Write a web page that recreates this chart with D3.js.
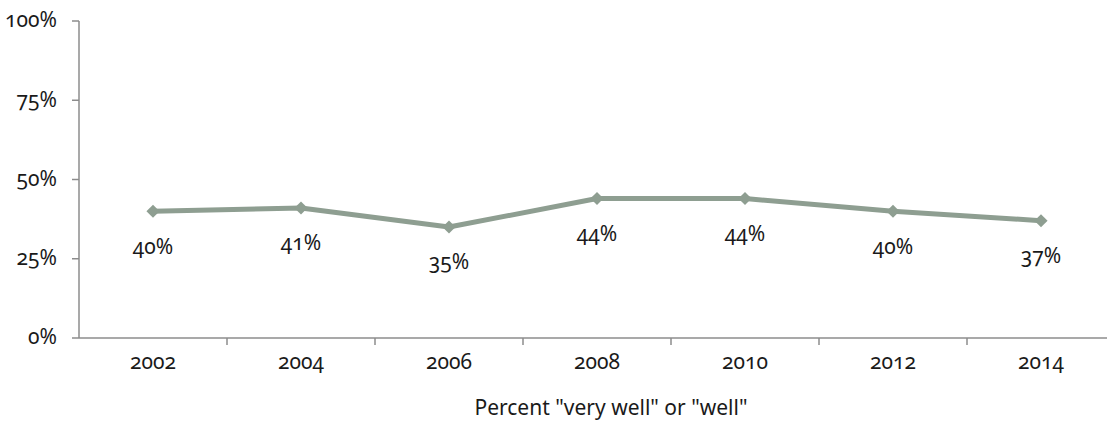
<!DOCTYPE html>
<html>
<head>
<meta charset="utf-8">
<script src="https://cdn.jsdelivr.net/npm/d3@7"></script>
<style>
  body { margin: 0; background: #fff; }
  svg text { font-family: "Noto Sans", "Open Sans", sans-serif; font-feature-settings: "onum" 1; fill: #1a1a1a; }
</style>
</head>
<body>
<svg id="chart" width="1107" height="430"></svg>
<script>
// ##### Data
var years = ['2002', '2004', '2006', '2008', '2010', '2012', '2014'];
var values = [40, 41, 35, 44, 44, 40, 37];
var yTicks = [0, 25, 50, 75, 100];
var axisTitle = 'Percent "very well" or "well"';

// ##### Layout
// NOTE 'top' is a reserved global in browsers, hence the plot prefix
var svg = d3.select('#chart');
var plotLeft = 79, plotRight = 1115, plotTop = 21, plotBottom = 338;
var fontSize = '21px';

var x = d3.scaleBand().domain(years).range([plotLeft, plotRight]);
var y = d3.scaleLinear().domain([0, 100]).range([plotBottom, plotTop]);

var axisColour = '#8c8c8c';
var lineColour = '#8e9e91';

// Y axis line and ticks
svg.append('line')
  .attr('x1', plotLeft).attr('x2', plotLeft)
  .attr('y1', y(100)).attr('y2', y(0))
  .style('stroke', axisColour).attr('stroke-width', 1.5);

svg.append('g').selectAll('line')
  .data(yTicks).enter().append('line')
  .attr('x1', plotLeft - 7).attr('x2', plotLeft)
  .attr('y1', function(d) { return y(d); })
  .attr('y2', function(d) { return y(d); })
  .style('stroke', axisColour).attr('stroke-width', 1.5);

svg.append('g').selectAll('text')
  .data(yTicks).enter().append('text')
  .attr('x', 57)
  .attr('y', function(d) { return y(d); })
  .attr('dy', '0.3em')
  .attr('text-anchor', 'end')
  .style('font-size', fontSize)
  .text(function(d) { return d + '%'; });

// X axis line and ticks (ticks sit between categories)
svg.append('line')
  .attr('x1', plotLeft).attr('x2', plotRight)
  .attr('y1', plotBottom).attr('y2', plotBottom)
  .style('stroke', axisColour).attr('stroke-width', 1.5);

svg.append('g').selectAll('line')
  .data(years).enter().append('line')
  .attr('x1', function(d) { return x(d) + x.bandwidth(); })
  .attr('x2', function(d) { return x(d) + x.bandwidth(); })
  .attr('y1', plotBottom).attr('y2', plotBottom + 7)
  .style('stroke', axisColour).attr('stroke-width', 1.5);

svg.append('g').selectAll('text')
  .data(years).enter().append('text')
  .attr('x', function(d) { return x(d) + x.bandwidth() / 2; })
  .attr('y', plotBottom + 31)
  .attr('text-anchor', 'middle')
  .style('font-size', fontSize)
  .text(function(d) { return d; });

// Axis title
svg.append('text')
  .attr('x', 611).attr('y', 415)
  .attr('text-anchor', 'middle')
  .style('font-size', fontSize)
  .text(axisTitle);

// ##### Series line
var points = years.map(function(d, i) { return { year: d, value: values[i] }; });

var line = d3.line()
  .x(function(d) { return x(d.year) + x.bandwidth() / 2; })
  .y(function(d) { return y(d.value); });

svg.append('path')
  .datum(points)
  .attr('d', line)
  .attr('fill', 'none')
  .style('stroke', lineColour)
  .attr('stroke-width', 5)
  .attr('stroke-linejoin', 'round');

// Diamond markers
svg.append('g').selectAll('path')
  .data(points).enter().append('path')
  .attr('transform', function(d) {
    return 'translate(' + (x(d.year) + x.bandwidth() / 2) + ',' + y(d.value) + ')';
  })
  .attr('d', d3.symbol().type(d3.symbolDiamond2).size(110))
  .attr('fill', lineColour);

// Data labels below the points
svg.append('g').selectAll('text')
  .data(points).enter().append('text')
  .attr('x', function(d) { return x(d.year) + x.bandwidth() / 2; })
  .attr('y', function(d) { return y(d.value) + 36; })
  .attr('dy', '0.3em')
  .attr('text-anchor', 'middle')
  .style('font-size', fontSize)
  .text(function(d) { return d.value + '%'; });
</script>
</body>
</html>
